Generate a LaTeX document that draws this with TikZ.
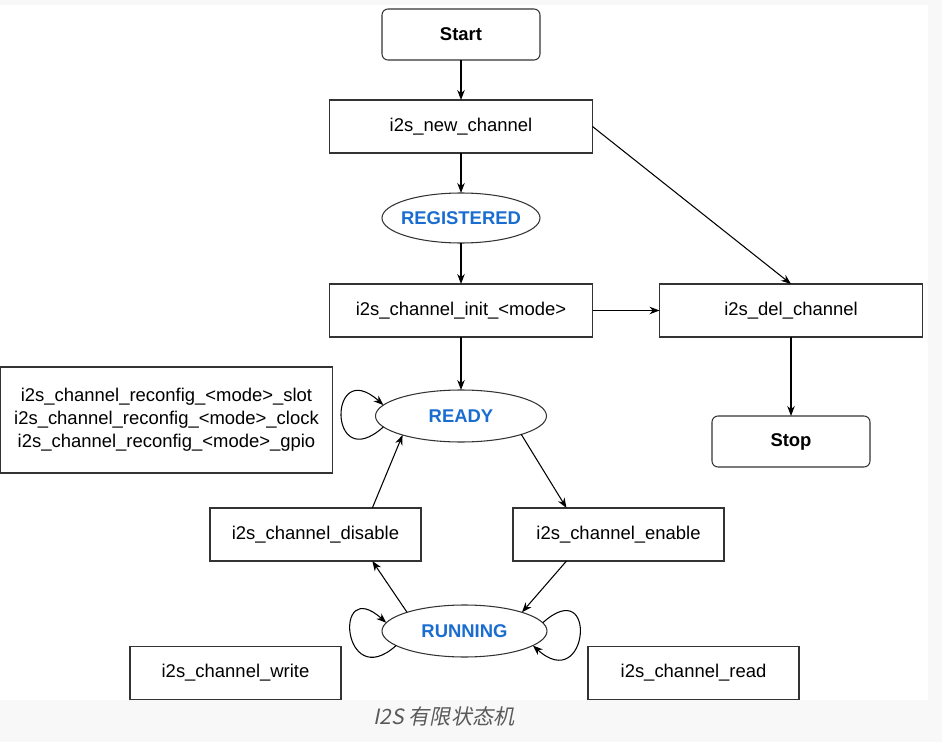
\documentclass[tikz,border=0pt]{standalone}
\usepackage{fontspec}
\setmainfont{Liberation Sans}
\newfontfamily\cjkfont[FakeSlant=0.2]{Noto Sans CJK SC}
\usetikzlibrary{arrows.meta,positioning,shapes.geometric}
\definecolor{stateblue}{HTML}{1A6DD0}
\definecolor{edgegray}{HTML}{333333}
\definecolor{pagegray}{HTML}{F8F8F8}
\definecolor{captiongray}{HTML}{5A5A5A}

\begin{document}
\begin{tikzpicture}[line width=0.6pt,>={Stealth[length=2mm,width=1.5mm]},
    node distance=8mm and 13.4mm,outer sep=0pt,
    call/.style={draw=edgegray,minimum width=5.26cm,minimum height=1.06cm,
      font=\fontsize{10.5}{13}\selectfont},
    short call/.style={call,minimum width=4.22cm},
    terminal/.style={draw=edgegray,rounded corners=1.2mm,minimum width=3.16cm,
      minimum height=1.02cm,font=\fontsize{10.5}{13}\selectfont\bfseries},
    state/.style={draw=edgegray,ellipse,inner xsep=-4pt,inner ysep=0pt,
      minimum height=1.04cm,text=stateblue,font=\fontsize{10.5}{13}\selectfont\bfseries},
    loopy/.style={out=222,in=138}]

\fill[pagegray] (0,0) rectangle (18.84,-14.84);
\fill[white] (0,-0.1) rectangle (18.56,-14.0);
\useasboundingbox (0,0) rectangle (18.84,-14.84);

\node[terminal] (start) at (9.22,-0.69) {Start};
\node[call] (newch) [below=of start] {i2s\_new\_channel};
\node[state,minimum width=3.16cm,minimum height=1.0cm] (registered) [below=of newch] {REGISTERED};
\node[call] (init) [below=8.2mm of registered] {i2s\_channel\_init\_<mode>};
\node[call] (del) [right=of init] {i2s\_del\_channel};
\node[terminal] (stop) [below=15.8mm of del] {Stop};

\node[state,minimum width=3.42cm] (ready) [below=10.6mm of init] {READY};
\node[draw=edgegray,minimum width=6.64cm,minimum height=2.12cm,align=center,
    font=\fontsize{10.5}{13}\selectfont] (reconfig) [left=8.6mm of ready,yshift=-0.08cm]
    {i2s\_channel\_reconfig\_<mode>\_slot\\
     i2s\_channel\_reconfig\_<mode>\_clock\\
     i2s\_channel\_reconfig\_<mode>\_gpio};

% run / stop cycle
\node[short call] (disable) [below=13.2mm of ready,xshift=-2.91cm] {i2s\_channel\_disable};
\node[short call] (enable) [below=13.2mm of ready,xshift=3.15cm] {i2s\_channel\_enable};
\node[state,minimum width=3.3cm] (running) [below=32.6mm of ready,xshift=0.07cm] {RUNNING};
\node[short call] (write) [left=8.2mm of running,yshift=-8.4mm] {i2s\_channel\_write};
\node[short call] (read) [right=8.2mm of running,yshift=-8.4mm] {i2s\_channel\_read};

\node[font=\cjkfont\fontsize{12}{14}\selectfont,text=captiongray] (caption)
    at (8.88,-14.32) {I2S 有限状态机};

\draw[->] (start) -- (newch);
\draw[->] (newch) -- (registered);
\draw[->] (registered) -- (init);
\draw[->] (newch.east) -- (del.north);
\draw[->] (init) -- (del);
\draw[->] (del) -- (stop);
\draw[->] (init) -- (ready);

\draw[->] (ready.-17) -- (enable.153);
\draw[->] (enable.207) -- (running.18);
\draw[->] (running.162) -- (disable.-25);
\draw[->] (disable.25) -- (ready.198);

% self loops
\draw[->] (ready.188) to[loopy,distance=1.5cm] (ready.172);
\draw[->] (running.192) to[loopy,distance=1.45cm] (running.174);
\draw[->] (running.6) to[out=42,in=-42,distance=1.5cm] (running.-12);

\end{tikzpicture}
\end{document}
